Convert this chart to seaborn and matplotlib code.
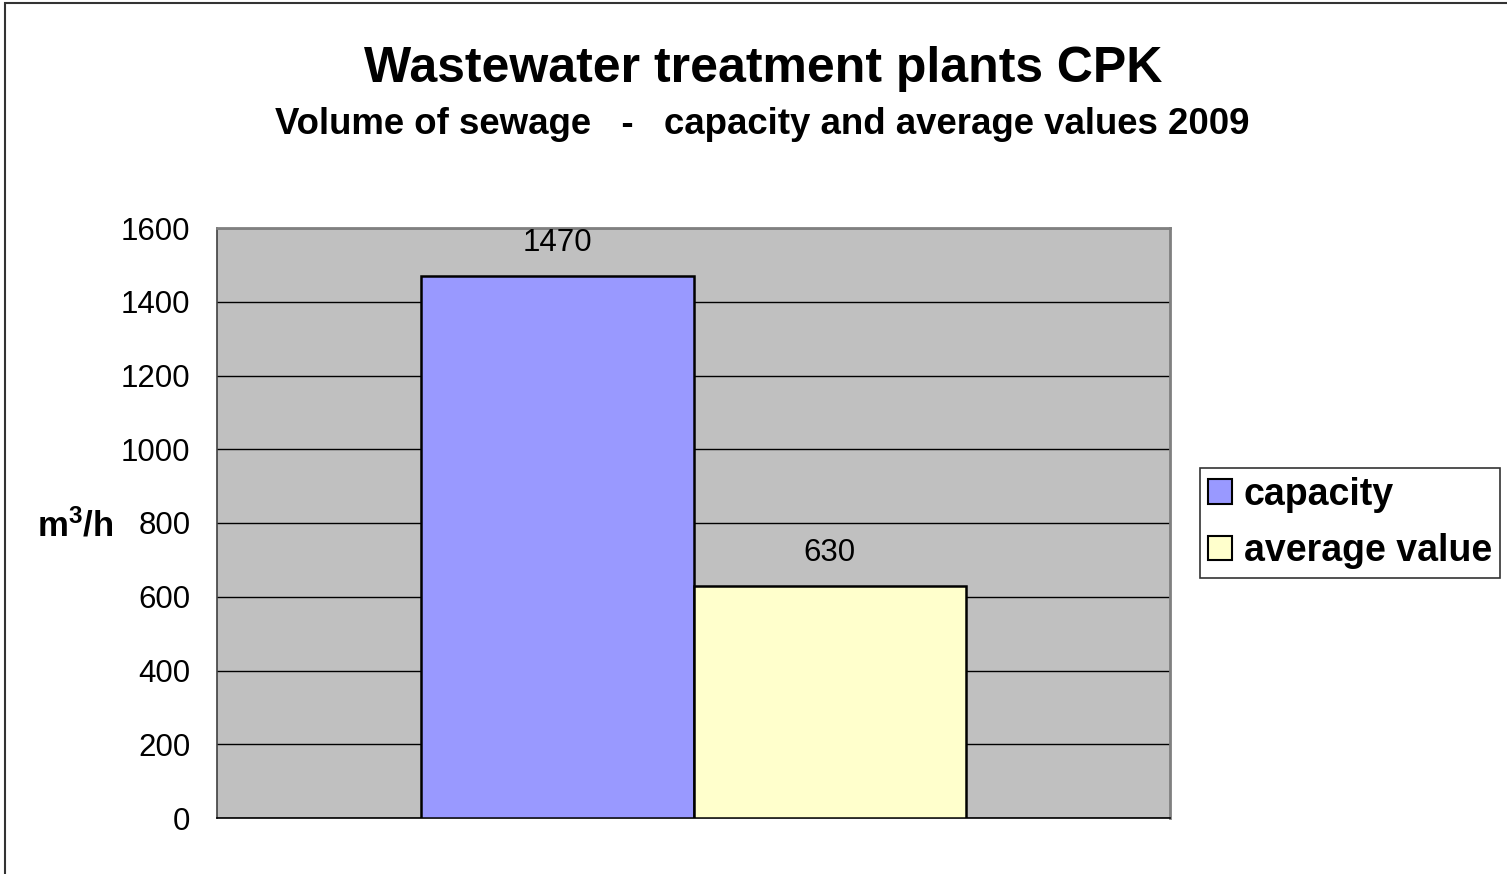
import pandas as pd
import matplotlib
matplotlib.use("Agg")
import matplotlib.pyplot as plt
import seaborn as sns
from matplotlib.patches import Rectangle

# data
series = ["capacity", "average value"]
values = [1470, 630]
colors = ["#9999FF", "#FFFFCC"]
yticks = [0, 200, 400, 600, 800, 1000, 1200, 1400, 1600]

df = pd.DataFrame({"group": ["2009"] * len(series), "series": series, "value": values})

sns.set_style("white")
plt.rcParams["font.family"] = ["Liberation Sans", "DejaVu Sans"]
plt.rcParams["text.color"] = "black"
plt.rcParams["axes.labelcolor"] = "black"
plt.rcParams["xtick.color"] = "black"
plt.rcParams["ytick.color"] = "black"
plt.rcParams["mathtext.fontset"] = "custom"
plt.rcParams["mathtext.rm"] = "Liberation Sans:bold"
plt.rcParams["mathtext.it"] = "Liberation Sans:bold"
plt.rcParams["mathtext.bf"] = "Liberation Sans:bold"

fig = plt.figure(figsize=(15.07, 8.74), dpi=100)
ax = fig.add_axes([217 / 1507, 56 / 874, 953 / 1507, 590 / 874])
ax.set_facecolor("#C0C0C0")

sns.barplot(
    data=df,
    x="group",
    y="value",
    hue="series",
    palette=colors,
    width=0.8,
    gap=0,
    edgecolor="black",
    linewidth=1.8,
    saturation=1,
    ax=ax,
    zorder=3,
)

ax.set_ylim(0, 1600)
ax.set_xlim(-0.6995, 0.6995)
ax.set_yticks(yticks)
ax.set_yticklabels([str(t) for t in yticks], fontsize=22.5)
ax.set_xticks([-0.6995, 0.6995])
ax.set_xticklabels(["", ""])
ax.tick_params(axis="y", direction="out", length=9, width=1, pad=10)
ax.tick_params(axis="x", direction="out", length=9, width=1)
ax.yaxis.grid(True, color="black", linewidth=1, zorder=0)
ax.set_axisbelow(True)
ax.set_xlabel("")
ax.set_ylabel("")

for side in ["top", "right"]:
    ax.spines[side].set_color("#808080")
    ax.spines[side].set_linewidth(2)
ax.spines["left"].set_color("#404040")
ax.spines["left"].set_linewidth(1.2)
ax.spines["bottom"].set_color("black")
ax.spines["bottom"].set_linewidth(1.2)

for cont in ax.containers:
    ax.bar_label(cont, fmt="%d", padding=13, fontsize=22.5)

# y label
fig.text(75 / 1507, 1 - 526 / 874, r"$\mathrm{m}^{3}$/h", fontsize=25,
         fontweight="bold", ha="center", va="center")

# titles
fig.text(0.5066, 1 - 69 / 874, "Wastewater treatment plants CPK",
         fontsize=36, fontweight="bold", ha="center", va="center")
fig.text(0.5057, 1 - 125 / 874, "Volume of sewage   -   capacity and average values 2009",
         fontsize=26.4, fontweight="bold", ha="center", va="center")

# legend
ax.get_legend().remove()
handles = [Rectangle((0, 0), 1, 1, facecolor=c, edgecolor="black", linewidth=1.5) for c in colors]
leg = fig.legend(
    handles,
    series,
    loc="center left",
    bbox_to_anchor=(1200 / 1507, 1 - 523 / 874),
    bbox_transform=fig.transFigure,
    prop={"weight": "bold", "size": 27},
    frameon=True,
    fancybox=False,
    shadow=False,
    handlelength=0.62,
    handleheight=0.62,
    handletextpad=0.32,
    borderpad=0.22,
    labelspacing=0.55,
    borderaxespad=0,
)
leg.get_frame().set_edgecolor("black")
leg.get_frame().set_linewidth(1.2)

# outer chart border
fig.patches.append(Rectangle((5 / 1507, -0.1), 1.2, 0.1 + 871 / 874, transform=fig.transFigure,
                             fill=False, edgecolor="#333333", linewidth=1.5))

fig.savefig("out.png", dpi=100)
